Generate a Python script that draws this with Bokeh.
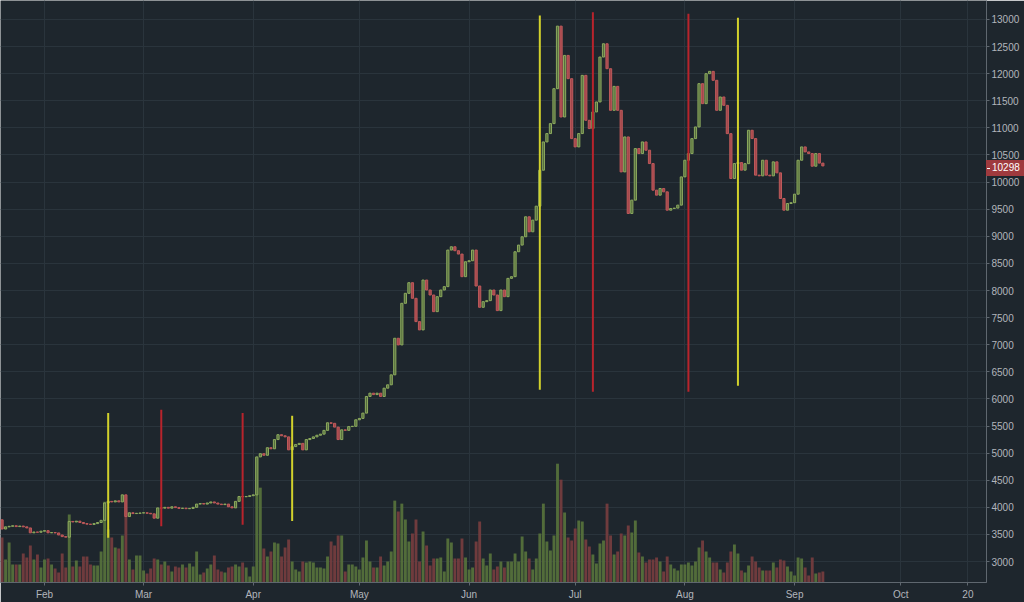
import pandas as pd
from bokeh.plotting import figure
from bokeh.layouts import column
from bokeh.models import Range1d, FixedTicker, ColumnDataSource, Div
from bokeh.embed import file_html
from bokeh.resources import INLINE

# ---------------- data ----------------
start_date = "2019-01-20"          # first daily candle
first_open = 3770

close = [
    3600, 3640, 3650, 3660, 3645, 3655, 3640, 3620, 3530, 3545, 3540, 3560,   # Jan 20-31
    3570, 3530, 3535, 3528, 3490, 3460, 3450, 3740, 3730, 3745, 3720, 3700,   # Feb 1-12
    3690, 3685, 3700, 3720, 3760, 4080, 4110, 4100, 4120, 4100, 4230, 3830,   # Feb 13-24
    3900, 3885, 3890, 3895,                                                   # Feb 25-28
    3900, 3890, 3880, 3800, 3990, 3985, 4000, 3985, 4010, 3995, 3980, 3985,   # Mar 1-12
    3975, 3980, 4000, 4060, 4070, 4060, 4080, 4100, 4080, 4060, 4050, 4060,   # Mar 13-24
    4010, 3990, 4110, 4200, 4195, 4200, 4215,                                 # Mar 25-31
    4230, 4930, 4990, 4960, 5100, 5080, 5250, 5340, 5320, 5300, 5060, 5120,   # Apr 1-12
    5160, 5180, 5060, 5250, 5270, 5300, 5330, 5350, 5420, 5560, 5550, 5480,   # Apr 13-24
    5250, 5430, 5420, 5490, 5495, 5615,                                       # Apr 25-30
    5640, 5738, 6045, 6106, 6080, 6106, 6045, 6198, 6260, 6444, 7119, 6996,   # May 1-12
    7764, 7948, 8144, 7856, 7426, 7273, 8193, 8009, 7917, 7610, 7886, 8009,   # May 13-24
    8071, 8746, 8807, 8734, 8672, 8255, 8531,                                 # May 25-31
    8549, 8746, 8083, 7690, 7794, 7813, 8009, 7917, 7629, 8009, 7886, 8224,   # Jun 1-12
    8255, 8715, 8838, 8991, 9360, 9083, 9298, 9556, 10219, 10741, 10895, 11079,  # Jun 13-24
    11723, 12877, 11201, 12337, 11908, 10802,                                 # Jun 25-30
    10649, 10895, 11969, 11140, 10987, 11294, 11478, 12307, 12552, 12092, 11324, 11766,  # Jul 1-12
    11324, 10188, 10833, 9421, 9667, 10618, 10526, 10741, 10588, 10342, 9851, 9759,      # Jul 13-24
    9882, 9820, 9482, 9513, 9520, 9575, 10096,                                # Jul 25-31
    10403, 10526, 10802, 11017, 11816, 11447, 12000, 12043, 11877, 11324, 11570, 11416,  # Aug 1-12
    10894, 10066, 10342, 10360, 10220, 10340, 10956, 10803, 10128, 10115, 10403, 10128,  # Aug 13-24
    10115, 10373, 10170, 9697, 9482, 9605, 9620,                              # Aug 25-31
    9777, 10403, 10649, 10557, 10526, 10293, 10526, 10350, 10298,             # Sep 1-9
]

volume = [
    45, 23, 40, 18, 18, 18, 29, 25, 37, 23, 28, 15,
    23, 24, 18, 14, 10, 29, 15, 68, 16, 22, 16, 26,
    26, 18, 17, 17, 31, 81, 53, 45, 35, 34, 47, 72,
    23, 13, 27, 27,
    12, 9, 14, 24, 23, 18, 21, 17, 11, 16, 15, 18,
    15, 19, 16, 31, 8, 10, 14, 18, 27, 13, 11, 10,
    15, 16, 18, 16, 20, 15, 6,
    16, 125, 95, 34, 26, 31, 40, 39, 26, 35, 43, 21,
    13, 11, 21, 20, 21, 20, 15, 15, 14, 26, 41, 37,
    47, 47, 11, 18, 18, 16,
    13, 25, 42, 21, 15, 15, 26, 17, 21, 31, 82, 71,
    79, 63, 41, 49, 63, 21, 51, 37, 17, 24, 24, 25,
    11, 44, 40, 24, 24, 44, 25,
    13, 15, 41, 61, 24, 17, 29, 13, 16, 21, 15, 21,
    21, 29, 21, 46, 31, 24, 13, 24, 49, 79, 41, 32,
    47, 119, 103, 70, 45, 42,
    54, 62, 61, 43, 36, 28, 19, 39, 42, 79, 47, 28,
    31, 49, 47, 57, 50, 62, 30, 26, 20, 23, 23, 25,
    21, 11, 26, 18, 14, 12, 18,
    18, 20, 17, 21, 35, 42, 31, 25, 20, 20, 13, 10,
    20, 31, 38, 29, 12, 10, 17, 26, 21, 15, 12, 12,
    12, 20, 15, 23, 22, 16, 11,
    7, 25, 24, 15, 7, 25, 9, 10, 11,
]

month_tick_dates = ["2019-02-01", "2019-03-01", "2019-04-01", "2019-05-01", "2019-06-01",
                    "2019-07-01", "2019-08-01", "2019-09-01", "2019-10-01", "2019-10-20"]
month_tick_labels = ["Feb", "Mar", "Apr", "May", "Jun", "Jul", "Aug", "Sep", "Oct", "20"]
price_ticks = list(range(3000, 13001, 500))

signal_dates = ["2019-02-19", "2019-03-06", "2019-03-29", "2019-04-12",
                "2019-06-21", "2019-07-06", "2019-08-02", "2019-08-16"]
signal_low = [3437, 3650, 3681, 3750, 6168, 6131, 6131, 6241]
signal_high = [5738, 5799, 5738, 5689, 13074, 13134, 13104, 13031]
signal_side = ["buy", "sell", "sell", "buy", "buy", "sell", "sell", "buy"]
last_price = 10298

# ---------------- styling ----------------
BG = "#1e262d"
GRID = "#2a343c"
TXT = "#b2b5bc"
UP_FILL, UP_LINE = "#566d3e", "#8dab5e"
DN_FILL, DN_LINE = "#a3474b", "#bf5a5b"
VOL_UP, VOL_DN = "#55703b", "#743c3e"
SIG = {"buy": "#d2d12c", "sell": "#b8242c"}
BADGE = "#9f3a3e"

origin = pd.Timestamp("2019-02-01")
dates = pd.date_range(start_date, periods=len(close), freq="D")
day = [(d - origin).days for d in dates]
opens = [first_open] + close[:-1]
up = [c >= o for o, c in zip(opens, close)]

candles = ColumnDataSource(dict(
    x=day,
    top=[max(o, c) for o, c in zip(opens, close)],
    bottom=[min(o, c) for o, c in zip(opens, close)],
    fill=[UP_FILL if u else DN_FILL for u in up],
    line=[UP_LINE if u else DN_LINE for u in up],
    vol=volume,
    vcol=[VOL_UP if u else VOL_DN for u in up],
))

tick_pos = [(pd.Timestamp(t) - origin).days for t in month_tick_dates]
sig_x = [(pd.Timestamp(t) - origin).days for t in signal_dates]

W, H = 1024, 602
RIGHT, BOTTOM = 38, 19
FRAME_W, FRAME_H = W - RIGHT, H - BOTTOM
px_per_day = 3.538
x0 = -44.0 / px_per_day            # Feb 1 sits 44 px from the left edge
x1 = x0 + FRAME_W / px_per_day
price_per_px = 18.416
y1 = 13000 + 19 * price_per_px     # 13000 sits 19 px below the top
y0 = y1 - FRAME_H * price_per_px

p = figure(width=W, height=H, output_backend="svg", toolbar_location=None,
           x_range=Range1d(x0, x1), y_range=Range1d(y0, y1),
           y_axis_location="right",
           min_border_left=0, min_border_top=0,
           min_border_right=RIGHT, min_border_bottom=BOTTOM,
           background_fill_color=BG, border_fill_color=BG, outline_line_color=None)
p.extra_y_ranges = {"vol": Range1d(0, FRAME_H)}

# grid
p.xgrid.ticker = FixedTicker(ticks=tick_pos)
p.ygrid.ticker = FixedTicker(ticks=price_ticks)
p.grid.grid_line_color = GRID
p.grid.grid_line_width = 1

# axes
p.xaxis.ticker = FixedTicker(ticks=tick_pos)
p.xaxis.major_label_overrides = {t: l for t, l in zip(tick_pos, month_tick_labels)}
p.yaxis.ticker = FixedTicker(ticks=price_ticks)
for ax in (p.xaxis[0], p.yaxis[0]):
    ax.axis_line_color = "#5f676f"
    ax.major_tick_line_color = "#5f676f"
    ax.minor_tick_line_color = None
    ax.major_tick_in = 0
    ax.major_label_text_color = TXT
    ax.major_label_text_font = "Liberation Sans"
    ax.major_label_text_font_size = "10px"
p.xaxis.major_tick_out = 3
p.xaxis.major_label_standoff = 3
p.yaxis.major_tick_out = 3
p.yaxis.major_label_standoff = 2

# volume
p.vbar(x="x", width=0.82, top="vol", bottom=0, source=candles, y_range_name="vol",
       fill_color="vcol", line_color=None, fill_alpha=0.95)

# candles (bodies only)
p.vbar(x="x", width=0.62, top="top", bottom="bottom", source=candles,
       fill_color="fill", line_color="line", line_width=1)

# signal lines
p.segment(x0=sig_x, y0=signal_low, x1=sig_x, y1=signal_high,
          line_color=[SIG[s] for s in signal_side], line_width=2)

# last-price badge over the price axis (annotations are clipped to the frame,
# so it is a small absolutely positioned element at the price's pixel row)
badge_y = (y1 - last_price) / price_per_px
badge_html = (
    '<div style="width:38px;height:16px;line-height:16px;white-space:nowrap;'
    f'background:{BADGE};color:#ffffff;font-family:\'Liberation Sans\';font-size:10px;'
    'margin:0;padding:0;overflow:visible">'
    '<span style="display:inline-block;width:3px;height:1px;background:#ffffff;'
    'vertical-align:middle;margin:0 2px 0 1px"></span>'
    f'{last_price}</div>'
)
badge = Div(text=badge_html, width=RIGHT, height=16,
            styles={"position": "absolute", "left": f"{FRAME_W}px",
                    "top": f"{badge_y - 7:.0f}px", "margin": "0", "padding": "0",
                    "z-index": "10"})

layout = column(p, badge, spacing=0)
open("out.html", "w").write(file_html(layout, INLINE))
